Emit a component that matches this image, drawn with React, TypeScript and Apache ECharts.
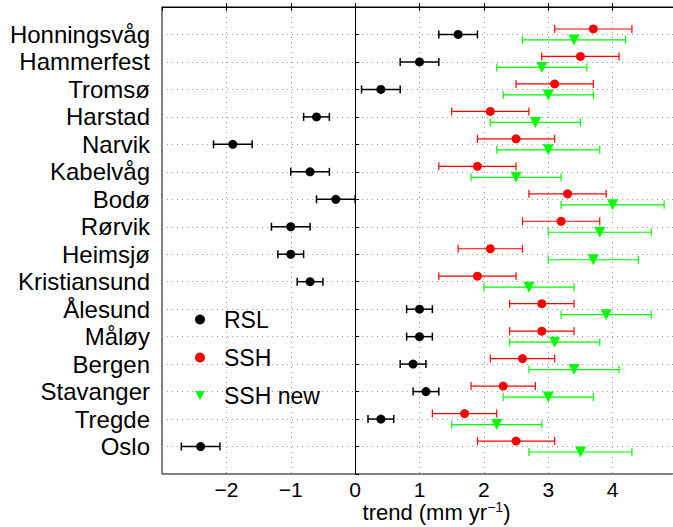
import React, { useEffect, useRef } from "react";
import * as echarts from "echarts";

const stations = [
  "Honningsvåg", "Hammerfest", "Tromsø", "Harstad", "Narvik", "Kabelvåg", "Bodø", "Rørvik",
  "Heimsjø", "Kristiansund", "Ålesund", "Måløy", "Bergen", "Stavanger", "Tregde", "Oslo",
];
const rslTrend = [1.6, 1.0, 0.4, -0.6, -1.9, -0.7, -0.3, -1.0, -1.0, -0.7, 1.0, 1.0, 0.9, 1.1, 0.4, -2.4];
const rslErr = [0.3, 0.3, 0.3, 0.2, 0.3, 0.3, 0.3, 0.3, 0.2, 0.2, 0.2, 0.2, 0.2, 0.2, 0.2, 0.3];
const sshTrend = [3.7, 3.5, 3.1, 2.1, 2.5, 1.9, 3.3, 3.2, 2.1, 1.9, 2.9, 2.9, 2.6, 2.3, 1.7, 2.5];
const sshErr = [0.6, 0.6, 0.6, 0.6, 0.6, 0.6, 0.6, 0.6, 0.5, 0.6, 0.5, 0.5, 0.5, 0.5, 0.5, 0.6];
const newTrend = [3.4, 2.9, 3.0, 2.8, 3.0, 2.5, 4.0, 3.8, 3.7, 2.7, 3.9, 3.1, 3.4, 3.0, 2.2, 3.5];
const newErr = [0.8, 0.7, 0.7, 0.7, 0.8, 0.7, 0.8, 0.8, 0.7, 0.7, 0.7, 0.7, 0.7, 0.7, 0.7, 0.8];
const xTicks = [-2, -1, 0, 1, 2, 3, 4];

const FONT = "'Liberation Sans', Arial, Helvetica, sans-serif";

function errBar(name: string, trend: number[], err: number[], offset: number, color: string, lw: number) {
  return {
    type: "custom",
    name: name + "_err",
    z: 2,
    data: trend.map((t, i) => [t - err[i], t + err[i], i + 1 + offset]),
    encode: { x: [0, 1], y: 2 },
    renderItem: (params: any, api: any) => {
      const y = api.value(2);
      const p1 = api.coord([api.value(0), y]);
      const p2 = api.coord([api.value(1), y]);
      const h = 4;
      const style = { stroke: color, lineWidth: lw };
      return {
        type: "group",
        children: [
          { type: "line", shape: { x1: p1[0], y1: p1[1], x2: p2[0], y2: p2[1] }, style },
          { type: "line", shape: { x1: p1[0], y1: p1[1] - h, x2: p1[0], y2: p1[1] + h }, style },
          { type: "line", shape: { x1: p2[0], y1: p2[1] - h, x2: p2[0], y2: p2[1] + h }, style },
        ],
      };
    },
  };
}

function marks(name: string, trend: number[], offset: number, color: string, symbol: string, size: number, rotate = 0) {
  return {
    type: "scatter",
    name,
    z: 3,
    symbol,
    symbolSize: size,
    symbolRotate: rotate,
    itemStyle: { color, opacity: 1 },
    data: trend.map((t, i) => [t, i + 1 + offset]),
  };
}

export default function App() {
  const ref = useRef<HTMLDivElement>(null);
  useEffect(() => {
    document.body.style.margin = "0";
    const chart = echarts.init(ref.current!, null, { renderer: "svg" });
    const dotted = { color: "#9a9a9a", width: 1, type: [1, 4] as any };
    chart.setOption({
      animation: false,
      backgroundColor: "#fff",
      textStyle: { fontFamily: FONT },
      grid: {
        left: 162, top: 7, width: 515, height: 467, show: true, borderColor: "#000", borderWidth: 1,
        containLabel: false, outerBoundsMode: "none",
      },
      legend: {
        orient: "vertical",
        left: 190,
        top: 303,
        itemWidth: 10,
        itemHeight: 10,
        itemGap: 15,
        textStyle: { fontSize: 23, color: "#000", fontFamily: FONT, padding: [0, 0, 0, 14] },
        data: [
          { name: "RSL", icon: "circle" },
          { name: "SSH", icon: "circle" },
          { name: "SSH new", icon: "path://M0,0L10,0L5,9Z" },
        ],
      },
      xAxis: [
        {
          type: "value",
          min: -3,
          max: 5,
          interval: 1,
          axisLine: { show: true, lineStyle: { color: "#000" } },
          axisTick: { show: true, inside: true, length: 4, lineStyle: { color: "#000" } },
          axisLabel: {
            showMinLabel: false,
            showMaxLabel: false,
            color: "#000",
            fontSize: 21,
            lineHeight: 16,
            margin: 7,
            fontFamily: FONT,
            formatter: (v: number) => (xTicks.includes(v) ? (v < 0 ? "\u2212" + Math.abs(v) : String(v)) : ""),
          },
          splitLine: { show: true, lineStyle: dotted },
          name: "{a|trend (mm yr}{s|\u22121}{a|)}",
          nameLocation: "middle",
          nameGap: 29,
          nameMoveOverlap: false,
          nameTextStyle: {
            padding: [0, 0, 0, 34],
            rich: {
              a: { fontSize: 22, color: "#000", fontFamily: FONT, lineHeight: 20, verticalAlign: "bottom" },
              s: { fontSize: 14, color: "#000", fontFamily: FONT, lineHeight: 14, verticalAlign: "bottom", padding: [0, 0, 9, 0] },
            },
          },
        },
        {
          type: "value",
          position: "top",
          min: -3,
          max: 5,
          interval: 1,
          axisLine: { show: false },
          axisTick: { show: true, inside: true, length: 4, lineStyle: { color: "#000" } },
          axisLabel: { show: false },
          splitLine: { show: false },
        },
      ],
      yAxis: {
        type: "value",
        min: 0,
        max: 17,
        interval: 1,
        inverse: true,
        axisLine: { show: true, lineStyle: { color: "#000" } },
        axisTick: { show: true, inside: true, length: 4, lineStyle: { color: "#000" } },
        axisLabel: {
          color: "#000",
          fontSize: 24,
          margin: 12,
          fontFamily: FONT,
          formatter: (v: number) => (v >= 1 && v <= 16 ? stations[v - 1] : ""),
        },
        splitLine: { show: true, lineStyle: dotted },
      },
      series: [
        {
          ...errBar("RSL", rslTrend, rslErr, 0, "#000", 1.5),
          markLine: {
            silent: true,
            symbol: ["none", "none"],
            label: { show: false },
            lineStyle: { color: "#000", type: "solid", width: 1 },
            data: [{ xAxis: 0 }],
          },
        },
        errBar("SSH", sshTrend, sshErr, -0.2, "#ff0000", 1.2),
        errBar("SSH new", newTrend, newErr, 0.2, "#00ff00", 1.2),
        marks("RSL", rslTrend, 0, "#000", "circle", 9),
        marks("SSH", sshTrend, -0.2, "#ff0000", "circle", 9),
        marks("SSH new", newTrend, 0.2, "#00ff00", "triangle", 11, 180),
      ],
    });
    return () => chart.dispose();
  }, []);
  return <div ref={ref} style={{ width: 673, height: 527 }} />;
}
